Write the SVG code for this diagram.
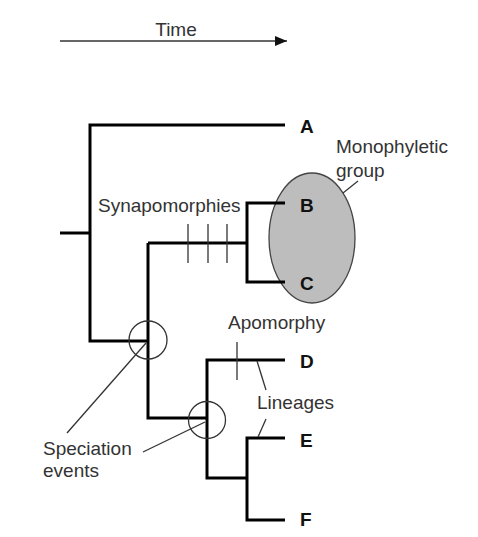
<svg xmlns="http://www.w3.org/2000/svg" width="478" height="537" viewBox="0 0 478 537">
<style>
.t{font-family:"Liberation Sans",Arial,sans-serif;font-size:19px;fill:#333}
.b{font-family:"Liberation Sans",Arial,sans-serif;font-size:19px;font-weight:bold;fill:#111}
.br{fill:none;stroke:#000;stroke-width:3;stroke-linecap:butt;stroke-linejoin:miter}
.thin{fill:none;stroke:#333;stroke-width:1.3}
</style>
<defs>
<marker id="ah" markerWidth="12" markerHeight="10" refX="12" refY="5" orient="auto" markerUnits="userSpaceOnUse">
<path d="M0,0 L12,5 L0,10 Z" fill="#111"/>
</marker>
</defs>
<rect width="478" height="537" fill="#fff"/>
<g id="time-axis">
<line x1="60" y1="41" x2="287" y2="41" stroke="#333" stroke-width="1.3" marker-end="url(#ah)"/>
<text class="t" x="176" y="36" text-anchor="middle">Time</text>
</g>
<g id="monophyletic-group">
<ellipse cx="312" cy="238" rx="43" ry="65" fill="#bdbdbd" stroke="#444" stroke-width="1.3"/>
</g>
<g id="connectors">
<path class="br" d="M60,233 H90"/>
<path class="br" d="M285,125 H90 V341 H148"/>
<path class="br" d="M148,243 V418 H207"/>
<path class="br" d="M148,243 H247"/>
<path class="br" d="M285,203 H247 V282 H285"/>
<path class="br" d="M285,360 H207 V478 H247"/>
<path class="br" d="M285,438 H247 V520 H285"/>
<g class="thin">
<line x1="188" y1="224" x2="188" y2="263"/>
<line x1="208" y1="224" x2="208" y2="263"/>
<line x1="227" y1="224" x2="227" y2="263"/>
<line x1="237" y1="342" x2="237" y2="380"/>
<line x1="358" y1="181" x2="343" y2="193"/>
<line x1="257" y1="361" x2="266" y2="390"/>
<line x1="266" y1="419" x2="258" y2="437"/>
<line x1="67" y1="433" x2="146" y2="343"/>
<line x1="143" y1="452" x2="205" y2="422"/>
</g>
</g>
<g id="speciation-1"><circle class="thin" cx="148" cy="340" r="19"/></g>
<g id="speciation-2"><circle class="thin" cx="207" cy="420" r="18.5"/></g>
<g id="node-A"><text class="b" x="300" y="133">A</text></g>
<g id="node-B"><text class="b" x="300" y="212">B</text></g>
<g id="node-C"><text class="b" x="300" y="290">C</text></g>
<g id="node-D"><text class="b" x="300" y="368">D</text></g>
<g id="node-E"><text class="b" x="300" y="447">E</text></g>
<g id="node-F"><text class="b" x="300" y="526">F</text></g>
<g id="labels">
<text class="t" x="98" y="212">Synapomorphies</text>
<text class="t" x="336" y="153">Monophyletic</text>
<text class="t" x="336" y="177">group</text>
<text class="t" x="228" y="329">Apomorphy</text>
<text class="t" x="257" y="409">Lineages</text>
<text class="t" x="43" y="455">Speciation</text>
<text class="t" x="43" y="477">events</text>
</g>
</svg>
